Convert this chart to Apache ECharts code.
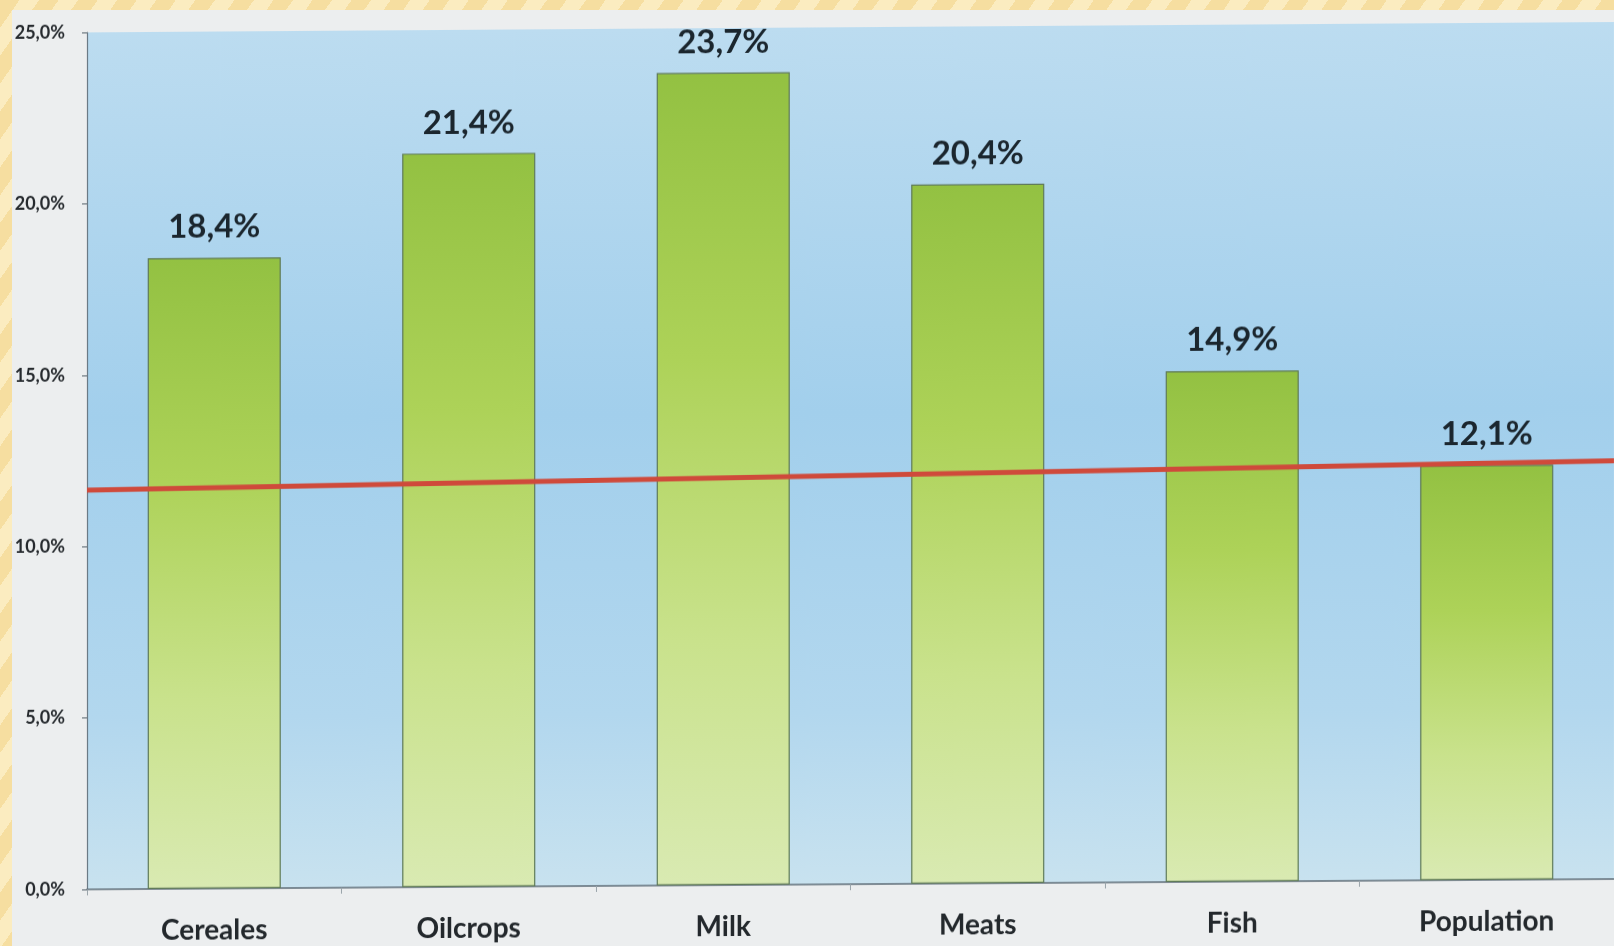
<!DOCTYPE html>
<html>
<head>
<meta charset="utf-8">
<script src="https://cdn.jsdelivr.net/npm/echarts@6/dist/echarts.min.js"></script>
<style>
  html, body { margin: 0; padding: 0; }
  body {
    width: 1614px; height: 946px; overflow: hidden; position: relative;
    background: repeating-linear-gradient(125deg, #f6dea0 0 16px, #fbecc0 16px 32px);
  }
  #paper {
    position: absolute; left: 12px; top: 10px; right: 0; bottom: 0;
    background: #eceeef;
  }
  #main {
    position: absolute; left: 0; top: 0; width: 1614px; height: 946px;
    transform-origin: 0 0;
    transform: skewY(-0.39deg);
  }
</style>
</head>
<body>
<div id="paper"></div>
<div id="main"></div>
<script>
// growth by product group, %
var categories = ['Cereales', 'Oilcrops', 'Milk', 'Meats', 'Fish', 'Population']
var values = [18.4, 21.4, 23.7, 20.4, 14.9, 12.1]
// red reference line, value at the left and right edge of the plot
var refLine = [11.65, 12.2]
var yTicks = { min: 0, max: 25, interval: 5 }

function pct(v) {
  return v.toFixed(1).replace('.', ',') + '%'
}

var chart = echarts.init(document.getElementById('main'))

chart.setOption({
  animation: false,
  backgroundColor: 'transparent',
  grid: {
    left: 87,
    top: 33,
    width: 1537,
    height: 859,
    show: true,
    borderWidth: 0,
    backgroundColor: {
      type: 'linear', x: 0, y: 0, x2: 0, y2: 1,
      colorStops: [
        { offset: 0, color: '#bcdcf0' },
        { offset: 0.45, color: '#a2cfec' },
        { offset: 0.8, color: '#b2d7ee' },
        { offset: 1, color: '#c8e2ef' }
      ]
    }
  },
  xAxis: [
    {
      type: 'category',
      data: categories,
      axisLine: { lineStyle: { color: '#5f6e78', width: 1.5 } },
      axisTick: { show: true, length: 6, lineStyle: { color: '#9aa4aa' } },
      axisLabel: {
        margin: 28,
        fontFamily: 'Lato',
        fontWeight: 'bold',
        fontSize: 28,
        color: '#23282c'
      }
    },
    {
      // helper axis for the reference line, spans the full plot width
      type: 'value',
      min: 0,
      max: 1,
      show: false
    }
  ],
  yAxis: {
    type: 'value',
    min: yTicks.min,
    max: yTicks.max,
    interval: yTicks.interval,
    axisLine: { show: true, lineStyle: { color: '#6b7a85', width: 1.2 } },
    axisTick: { show: true, length: 5, lineStyle: { color: '#55626b' } },
    splitLine: { show: false },
    axisLabel: {
      margin: 22,
      fontFamily: 'Lato',
      fontWeight: 'bold',
      fontSize: 18,
      color: '#262a2e',
      formatter: pct
    }
  },
  series: [
    {
      type: 'bar',
      data: values,
      barWidth: '52.3%',
      itemStyle: {
        borderColor: '#5f7a58',
        borderWidth: 1.2,
        color: {
          type: 'linear', x: 0, y: 0, x2: 0, y2: 1,
          colorStops: [
            { offset: 0, color: '#93c142' },
            { offset: 0.35, color: '#add258' },
            { offset: 0.7, color: '#c9e28c' },
            { offset: 1, color: '#d9eab2' }
          ]
        }
      },
      label: {
        show: true,
        position: 'top',
        distance: 14,
        fontFamily: 'Lato',
        fontWeight: 'bold',
        fontSize: 33,
        color: '#1b262e',
        formatter: function (p) { return pct(p.value) }
      },
      z: 2
    },
    {
      type: 'line',
      xAxisIndex: 1,
      data: [[0, refLine[0]], [1, refLine[1]]],
      symbol: 'none',
      silent: true,
      lineStyle: { color: '#cf4a3b', width: 5 },
      z: 3
    }
  ]
})
</script>
</body>
</html>
